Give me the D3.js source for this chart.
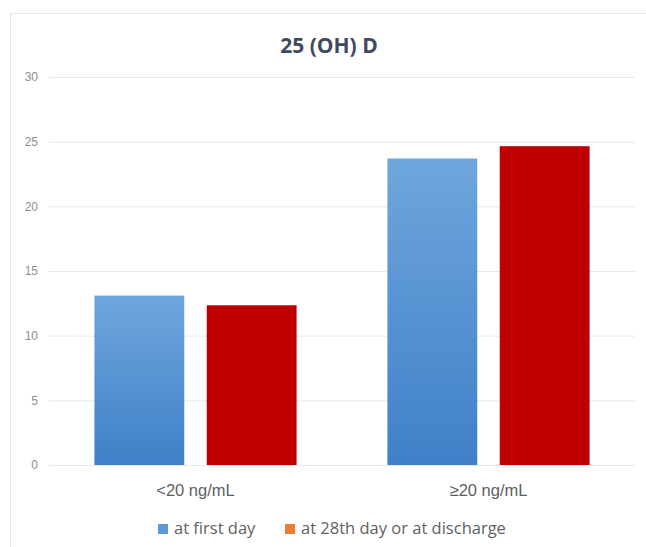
<!DOCTYPE html>
<html><head><meta charset="utf-8">
<script src="https://cdn.jsdelivr.net/npm/d3@7"></script>
<style>
html,body{margin:0;padding:0;background:#fff;}
svg{display:block;font-family:"Open Sans","Noto Sans",sans-serif;}
</style></head>
<body>
<svg id="c" width="646" height="547"></svg>
<script>
const categories = ["<20 ng/mL", "\u226520 ng/mL"];
const seriesNames = ["at first day", "at 28th day or at discharge"];
const firstDay = [13.1, 23.7];
const day28 = [12.35, 24.65];
const yTicks = [0, 5, 10, 15, 20, 25, 30];
const title = "25 (OH) D";

(function () {
const svg = d3.select("#c");
const mLeft = 49, mRight = 635, mTop = 77, mBottom = 465;

svg.append("rect").attr("x", 10.5).attr("y", 13.5).attr("width", 660).attr("height", 560)
  .attr("fill", "#fff").attr("stroke", "#e3e6ec").attr("stroke-width", 1);

const y = d3.scaleLinear().domain([0, 30]).range([mBottom, mTop]);
const x0 = d3.scaleBand().domain(categories).range([mLeft, mRight]).paddingInner(0.31).paddingOuter(0.155);
const x1 = d3.scaleBand().domain(seriesNames).range([0, x0.bandwidth()]).paddingInner(0.2);

const defs = svg.append("defs");
const g = defs.append("linearGradient").attr("id", "blueGrad").attr("x1", 0).attr("y1", 0).attr("x2", 0).attr("y2", 1);
g.append("stop").attr("offset", "0%").attr("stop-color", "#6fa6dd");
g.append("stop").attr("offset", "100%").attr("stop-color", "#3f80c8");

const yAxis = d3.axisLeft(y).tickValues(yTicks).tickSize(-(mRight - mLeft)).tickPadding(11);
const ga = svg.append("g").attr("transform", `translate(${mLeft},0)`).call(yAxis);
ga.select(".domain").remove();
ga.selectAll(".tick line").attr("stroke", "#e6e8ee").attr("stroke-width", 1);
ga.selectAll(".tick text").attr("fill", "#8f8f8f").attr("font-size", 12);

const series = [
  {name: seriesNames[0], values: firstDay, fill: "url(#blueGrad)"},
  {name: seriesNames[1], values: day28, fill: "#c00000"}
];
const gb = svg.append("g");
series.forEach(s => {
  gb.selectAll(null).data(categories).enter().append("rect")
    .attr("x", d => x0(d) + x1(s.name))
    .attr("width", x1.bandwidth())
    .attr("y", (d, i) => y(s.values[i]))
    .attr("height", (d, i) => y(0) - y(s.values[i]))
    .attr("fill", s.fill);
});

const xAxis = d3.axisBottom(x0).tickSize(0).tickPadding(0);
const gx = svg.append("g").attr("transform", `translate(0,${mBottom})`).call(xAxis);
gx.select(".domain").remove();
gx.selectAll(".tick text").attr("fill", "#5f5f5f").attr("font-size", 16.5)
  .attr("dy", null).attr("y", 31);

svg.append("text").attr("x", 329).attr("y", 53).attr("text-anchor", "middle")
  .attr("font-size", 21).attr("font-weight", "bold").attr("fill", "#3f4a5e").text(title);

const legendColors = ["#5b9bd5", "#ed7d31"];
const legendX = [158, 285];
seriesNames.forEach((n, i) => {
  svg.append("rect").attr("x", legendX[i]).attr("y", 524).attr("width", 10).attr("height", 10).attr("fill", legendColors[i]);
  svg.append("text").attr("x", legendX[i] + 16).attr("y", 534).attr("font-size", 16.5)
    .attr("fill", "#5f5f5f").text(n);
});
})();
</script>
</body></html>
